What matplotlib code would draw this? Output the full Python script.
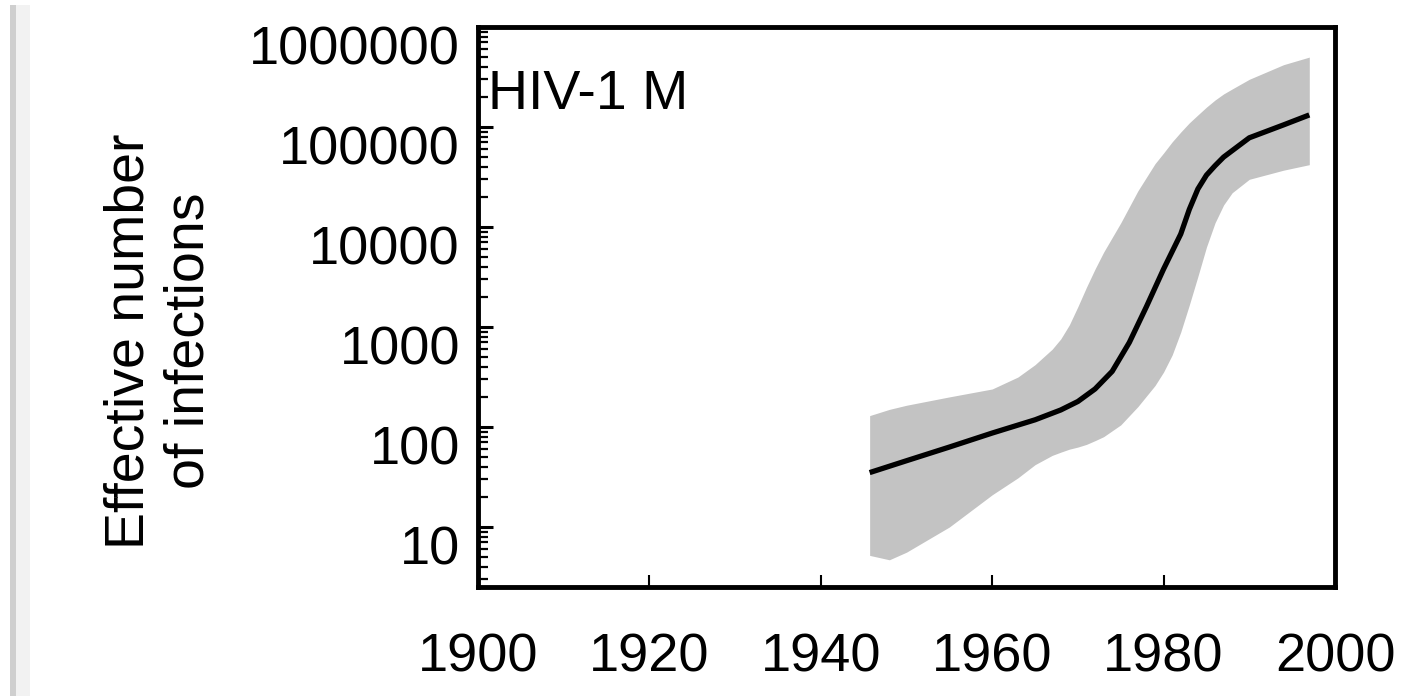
import matplotlib
matplotlib.use("Agg")
import matplotlib.pyplot as plt
from matplotlib.ticker import FixedLocator, FixedFormatter, LogLocator, NullFormatter
from matplotlib.transforms import ScaledTranslation
from matplotlib.patches import Rectangle

plt.rcParams['font.family'] = ['Liberation Sans', 'DejaVu Sans']

# Median estimate of the effective number of infections
years = [1945.7, 1950, 1955, 1960, 1965, 1968, 1970, 1972, 1974, 1976, 1978,
         1980, 1982, 1983, 1984, 1985, 1986, 1987, 1988, 1990, 1994, 1997]
median = [35, 46, 63, 87, 118, 148, 180, 240, 360, 700, 1600,
          3800, 8500, 15000, 24000, 33000, 41000, 50000, 58000, 78000, 105000, 132000]

# 95% credible interval
band_years = [1945.7, 1948, 1950, 1955, 1960, 1963, 1965, 1967, 1968, 1969,
              1970, 1971, 1972, 1973, 1975, 1977, 1979, 1980, 1981, 1982,
              1983, 1984, 1985, 1986, 1987, 1988, 1990, 1994, 1997]
band_upper = [130, 150, 165, 200, 240, 316, 420, 600, 760, 1050,
              1600, 2500, 3800, 5600, 11000, 23000, 43000, 55000, 71000, 89000,
              110000, 132000, 158000, 186000, 214000, 240000, 300000, 420000, 500000]
band_lower = [5.2, 4.7, 5.6, 10, 21, 31, 42, 52, 56, 60,
              63, 67, 73, 80, 105, 160, 260, 355, 525, 890,
              1660, 3200, 6300, 11000, 16600, 22000, 30000, 37000, 42000]

x_ticks = [1900, 1920, 1940, 1960, 1980, 2000]
y_ticks = [10, 100, 1000, 10000, 100000, 1000000]
y_tick_labels = ['10', '100', '1000', '10000', '100000', '1000000']

fig = plt.figure(figsize=(14.13, 6.96), dpi=100)
fig.patch.set_facecolor('white')

# soft grey page edge on the left
fig.add_artist(Rectangle((10 / 1413, 0), 6 / 1413, 1 - 5 / 696,
                         transform=fig.transFigure, color='#cfcfcf', lw=0))
fig.add_artist(Rectangle((16 / 1413, 0), 14 / 1413, 1 - 5 / 696,
                         transform=fig.transFigure, color='#f2f2f2', lw=0))

ax = fig.add_axes([478 / 1413, 1 - 587 / 696, (1335 - 478) / 1413, (587 - 27) / 696])

ax.fill_between(band_years, band_lower, band_upper, color='#c3c3c3', lw=0)
ax.plot(years, median, color='black', lw=3.8, solid_capstyle='butt',
        solid_joinstyle='round')

ax.set_yscale('log')
ax.set_xlim(1900, 2000)
ax.set_ylim(10 ** 0.4, 1e6)

ax.xaxis.set_major_locator(FixedLocator(x_ticks))
ax.yaxis.set_major_locator(FixedLocator(y_ticks))
ax.yaxis.set_major_formatter(FixedFormatter(y_tick_labels))
ax.yaxis.set_minor_locator(LogLocator(base=10, subs=range(2, 10)))
ax.yaxis.set_minor_formatter(NullFormatter())

for sp in ax.spines.values():
    sp.set_linewidth(3.5)

ax.tick_params(axis='x', which='major', direction='in', length=9, width=1.5,
               labelsize=39, pad=33, top=False)
ax.tick_params(axis='y', which='major', direction='in', length=11, width=2.2,
               labelsize=39, pad=13, right=False)
ax.tick_params(axis='y', which='minor', direction='in', length=7, width=1.6,
               right=False)

# y labels sit a little below their ticks
shift = ScaledTranslation(0, -0.18, fig.dpi_scale_trans)
for lab in ax.get_yticklabels():
    lab.set_transform(lab.get_transform() + shift)

ax.text(0.012, 0.925, 'HIV-1 M', transform=ax.transAxes, fontsize=40,
        ha='left', va='top')

fig.text(160 / 1413, 1 - 341 / 696, 'Effective number\nof infections',
         rotation=90, ha='center', va='center', multialignment='center',
         fontsize=40)

fig.savefig('out.png', dpi=100, facecolor='white')
